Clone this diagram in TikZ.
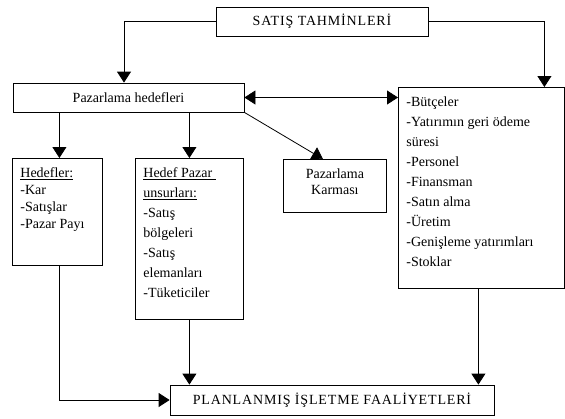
\documentclass[tikz,border=0pt]{standalone}
\usepackage{fontspec}
\setmainfont{Liberation Serif}
\newfontfamily\genis{Liberation Serif}[LetterSpace=6]
\usetikzlibrary{arrows.meta, positioning, calc}

% text block that sits at the top of a box of fixed height
\newcommand{\kutu}[3]{\begin{minipage}[t][#1][t]{#2}#3\end{minipage}}

\begin{document}
\begin{tikzpicture}[x=1pt, y=-1pt,
    every node/.style={font=\fontsize{14}{20}\selectfont},
    kutu/.style={draw, line width=0.8pt, rectangle, inner sep=0pt},
    liste/.style={kutu, anchor=north west, inner xsep=8pt, inner ysep=9pt, align=left},
    ok/.style={line width=0.8pt, -{Triangle[width=14pt, length=11pt]}},
    ciftok/.style={line width=0.8pt, {Triangle[width=14pt, length=11pt]}-{Triangle[width=14pt, length=11pt]}}]
  \useasboundingbox (0,0) rectangle (565,418);

  % Top and second row
  \node[kutu, minimum width=212pt, minimum height=29pt] (satis) at (322,21.5) {\genis SATIŞ TAHMİNLERİ};
  \node[kutu, minimum width=231pt, minimum height=29pt] (hedefleri) at (128.5,97.5) {Pazarlama hedefleri};

  % Right list
  \node[liste] (kaynaklar) at (398,87) {\kutu{183pt}{150pt}{%
    -Bütçeler\\
    -Yatırımın geri ödeme\\
    süresi\\
    -Personel\\
    -Finansman\\
    -Satın alma\\
    -Üretim\\
    -Genişleme yatırımları\\
    -Stoklar}};

  % Middle row
  \node[liste] (hedefler) at (12,158) {\kutu{89pt}{74pt}{\fontsize{14}{17}\selectfont
    \underline{Hedefler:}\\
    -Kar\\
    -Satışlar\\
    -Pazar Payı}};
  \node[liste] (pazar) at (135,158) {\kutu{143pt}{92pt}{%
    \underline{Hedef Pazar\ }\\
    \underline{unsurları:}\\
    -Satış\\
    bölgeleri\\
    -Satış\\
    elemanları\\
    -Tüketiciler}};
  \node[liste] (karma) at (283,159) {\kutu{35pt}{87pt}{\centering
    Pazarlama\\[-4pt]Karması}};

  % Bottom
  \node[kutu, minimum width=324pt, minimum height=30pt] (plan) at (332,400) {\genis PLANLANMIŞ İŞLETME FAALİYETLERİ};

  % Arrows
  \draw[ok] (satis.west) -| ([xshift=-4.5pt]hedefleri.north);
  \draw[ok] (satis.east) -| ([xshift=63pt]kaynaklar.north);
  \draw[ciftok] (hedefleri.east) -- (kaynaklar.west |- hedefleri.east);
  \draw[ok] ([xshift=2pt]hedefler.north |- hedefleri.south) -- ([xshift=2pt]hedefler.north);
  \draw[ok] (pazar.north |- hedefleri.south) -- (pazar.north);
  \draw[ok] (hedefleri.south east) -- ([xshift=-12pt]karma.north);
  \draw[ok] ([xshift=2pt]hedefler.south) |- (plan.west);
  \draw[ok] (pazar.south) -- (pazar.south |- plan.north);
  \draw[ok] ([xshift=-3pt]kaynaklar.south) -- ([xshift=-3pt]kaynaklar.south |- plan.north);
\end{tikzpicture}
\end{document}
